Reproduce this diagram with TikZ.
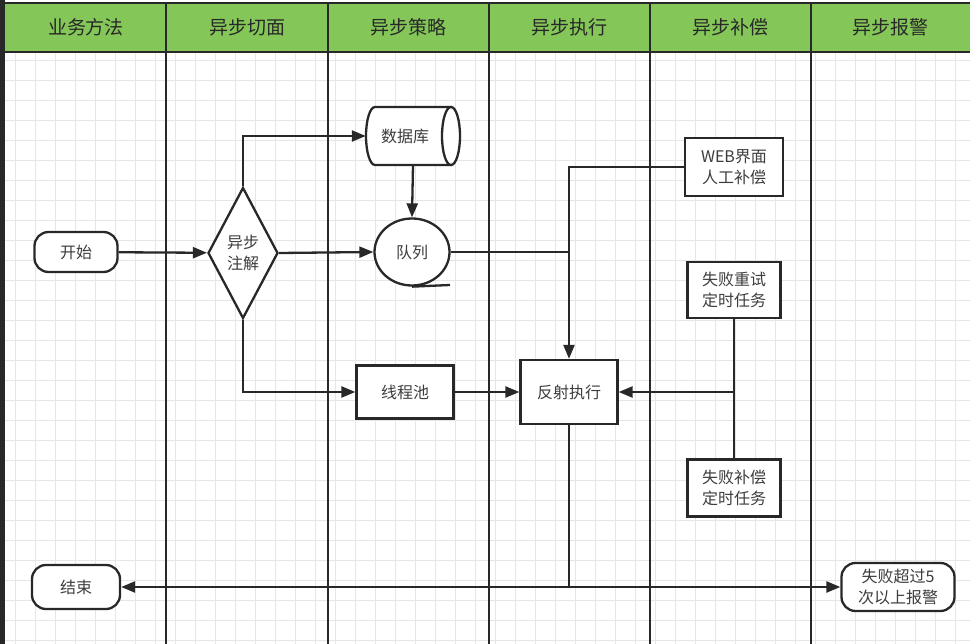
\documentclass[tikz,border=0pt]{standalone}
\usepackage{fontspec}
\setmainfont{Noto Sans CJK SC}
\usetikzlibrary{arrows.meta,shapes.geometric}
\definecolor{hdr}{RGB}{132,198,88}
\definecolor{ln}{RGB}{40,40,40}
\definecolor{gridc}{RGB}{230,230,230}
\tikzset{
  box/.style={draw=ln,line width=2.3pt,fill=white,align=center,font=\fontsize{16}{21}\selectfont,inner sep=0pt,text=ln!90},
  rbox/.style={box,rectangle},
  term/.style={box,rounded corners=14pt},
  hdrtext/.style={font=\fontsize{19}{22}\selectfont,text=ln},
  conn/.style={draw=ln,line width=2.3pt},
  arr/.style={conn,-{Triangle[length=14pt,width=11pt]}},
  cyl/.style={draw=ln,line width=2.3pt,fill=white},
}
\begin{document}
\begin{tikzpicture}[x=1pt,y=-1pt]
\useasboundingbox (0,0) rectangle (970,644);
\fill[white] (0,0) rectangle (970,644);
% grid
\foreach \x in {15,35,...,965} \draw[gridc,line width=0.8pt] (\x,52) -- (\x,644);
\foreach \y in {60,80,...,640} \draw[gridc,line width=0.8pt] (5,\y) -- (970,\y);
% header
\fill[hdr] (5,3) rectangle (970,52);
\draw[ln,line width=2pt] (5,3) -- (970,3);
\draw[ln,line width=2pt] (5,52) -- (970,52);
\foreach \x in {166,328,489,650,811} \draw[ln,line width=2.3pt] (\x,3) -- (\x,644);
\fill[ln] (0,0) rectangle (5,644);
\node[hdrtext] (h1) at (86,27) {业务方法};
\node[hdrtext] (h2) at (247,27) {异步切面};
\node[hdrtext] (h3) at (408,27) {异步策略};
\node[hdrtext] (h4) at (569,27) {异步执行};
\node[hdrtext] (h5) at (730,27) {异步补偿};
\node[hdrtext] (h6) at (890,27) {异步报警};
% database cylinder drawn by hand
\path[cyl] (451,107) -- (375,107) arc[start angle=270,end angle=90,x radius=9,y radius=29] -- (451,165) -- cycle;
\draw[cyl] (451,136) ellipse[x radius=9,y radius=29];
\node[draw=none,minimum width=94pt,minimum height=58pt,inner sep=0pt] (db) at (413,136) {};
\node[font=\fontsize{16}{21}\selectfont,text=ln!90] (dbt) at (405,136) {数据库};
% nodes
\node[term,minimum width=83pt,minimum height=40pt] (start) at (76,252) {开始};
\node[term,minimum width=88pt,minimum height=44pt] (end) at (76,587) {结束};
\node[box,diamond,minimum width=70pt,minimum height=131pt] (dec) at (243,253) {};
\node[font=\fontsize{16}{21}\selectfont,align=center,text=ln!90] (dect) at (243,253) {异步\\注解};
\node[box,ellipse,minimum width=75pt,minimum height=67pt] (queue) at (412,252) {队列};
\coordinate (qtail) at (450,285);
\node[rbox,minimum width=97pt,minimum height=53pt] (pool) at (405,392) {线程池};
\node[rbox,minimum width=97pt,minimum height=64pt] (exec) at (569,392) {反射执行};
\node[rbox,minimum width=98pt,minimum height=58pt] (web) at (734,167) {WEB界面\\人工补偿};
\node[rbox,minimum width=93pt,minimum height=56pt] (retry) at (734,290) {失败重试\\定时任务};
\node[rbox,minimum width=93pt,minimum height=57pt] (comp) at (734,488) {失败补偿\\定时任务};
\node[term,minimum width=113pt,minimum height=48pt] (alarm) at (898,587) {失败超过5\\次以上报警};
% connectors
\draw[conn] (queue.south) -- (qtail);
\draw[arr] (start) -- (dec);
\draw[arr] (dec.north) |- (db.west);
\draw[arr] (dec.east) -- (queue.west);
\draw[arr] (dec.south) |- (pool.west);
\draw[arr] (db.south) -- (queue.north);
\coordinate (j1) at (exec.north |- queue.east);
\draw[conn] (queue.east) -- (j1);
\draw[arr] (web.west) -| (exec.north);
\draw[arr] (pool) -- (exec);
\coordinate (j2) at (retry.south |- exec.east);
\draw[conn] (retry.south) -- (comp.north);
\draw[arr] (j2) -- (exec.east);
\coordinate (j3) at (exec.south |- end.east);
\draw[conn] (exec.south) -- (j3);
\draw[arr] (j3) -- (end.east);
\draw[arr] (j3) -- (alarm.west);
\end{tikzpicture}
\end{document}
